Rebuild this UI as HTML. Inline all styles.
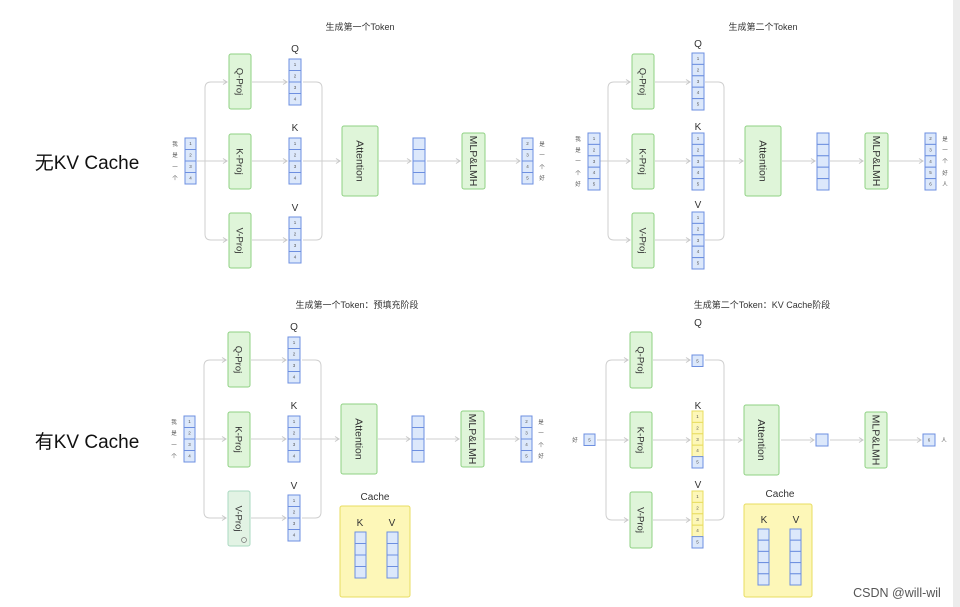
<!DOCTYPE html>
<html><head><meta charset="utf-8"><style>
html,body{margin:0;padding:0;background:#fff}
svg{display:block}
text{font-family:"Liberation Sans","Noto Sans CJK SC",sans-serif}
.c{fill:#dce8fb;stroke:#6d8fe0;stroke-width:1}
.y{fill:#fdf7b8;stroke:#e8dc60;stroke-width:1}
.p{fill:#dff5d9;stroke:#8fd183;stroke-width:1}
.l{fill:none;stroke:#cfcfcf;stroke-width:1}
.n{font-size:4.5px;fill:#555;text-anchor:middle}
.s{font-size:5.5px;fill:#555;text-anchor:middle}
.pt{font-size:9.5px;fill:#333;text-anchor:middle}
.pa{font-size:10.5px;fill:#333;text-anchor:middle}
.h{font-size:10px;fill:#333;text-anchor:middle}
.t{font-size:9px;fill:#333;text-anchor:middle}
</style></head><body>
<svg width="960" height="607" viewBox="0 0 960 607" xmlns="http://www.w3.org/2000/svg">
<defs><marker id="a" markerWidth="6" markerHeight="6" refX="5" refY="3" orient="auto"><path d="M1,0.5 L5,3 L1,5.5" fill="none" stroke="#c8c8c8" stroke-width="1"/></marker></defs>
<rect x="953" y="0" width="7" height="607" fill="#ececec"/>
<text x="87" y="169" style="font-size:19px;fill:#111;text-anchor:middle">无KV Cache</text>
<text x="87" y="448" style="font-size:19px;fill:#111;text-anchor:middle">有KV Cache</text>

<!-- PANEL 1 -->
<g>
<text x="360" y="30" class="t">生成第一个Token</text>
<g class="l"><path d="M197,161 H227" marker-end="url(#a)"/><path d="M205,161 V88 Q205,82 211,82 H227" marker-end="url(#a)"/><path d="M205,161 V234 Q205,240 211,240 H227" marker-end="url(#a)"/>
<path d="M252,82 H287" marker-end="url(#a)"/><path d="M252,161 H287" marker-end="url(#a)"/><path d="M252,240 H287" marker-end="url(#a)"/>
<path d="M303,82 H316 Q322,82 322,88 V161"/><path d="M303,240 H316 Q322,240 322,234 V161"/><path d="M303,161 H340" marker-end="url(#a)"/>
<path d="M379,161 H411" marker-end="url(#a)"/><path d="M427,161 H460" marker-end="url(#a)"/><path d="M486,161 H520" marker-end="url(#a)"/></g>
<rect class="c" x="185" y="138" width="11" height="11.5"/><rect class="c" x="185" y="149.5" width="11" height="11.5"/><rect class="c" x="185" y="161" width="11" height="11.5"/><rect class="c" x="185" y="172.5" width="11" height="11.5"/>
<text class="n" x="190.5" y="145">1</text><text class="n" x="190.5" y="156.5">2</text><text class="n" x="190.5" y="168">3</text><text class="n" x="190.5" y="179.5">4</text>
<text class="s" x="175" y="146">我</text><text class="s" x="175" y="157">是</text><text class="s" x="175" y="169">一</text><text class="s" x="175" y="180">个</text>
<rect class="p" x="229" y="54" width="22" height="55" rx="2"/><text class="pt" transform="translate(240,81.5) rotate(90)" y="3.5">Q-Proj</text>
<rect class="p" x="229" y="134" width="22" height="55" rx="2"/><text class="pt" transform="translate(240,161.5) rotate(90)" y="3.5">K-Proj</text>
<rect class="p" x="229" y="213" width="22" height="55" rx="2"/><text class="pt" transform="translate(240,240.5) rotate(90)" y="3.5">V-Proj</text>
<text class="h" x="295" y="52">Q</text><text class="h" x="295" y="131">K</text><text class="h" x="295" y="211">V</text>
<rect class="c" x="289" y="59" width="12" height="11.5"/><rect class="c" x="289" y="70.5" width="12" height="11.5"/><rect class="c" x="289" y="82" width="12" height="11.5"/><rect class="c" x="289" y="93.5" width="12" height="11.5"/>
<text class="n" x="295" y="66">1</text><text class="n" x="295" y="77.5">2</text><text class="n" x="295" y="89">3</text><text class="n" x="295" y="100.5">4</text>
<g transform="translate(0,79)"><rect class="c" x="289" y="59" width="12" height="11.5"/><rect class="c" x="289" y="70.5" width="12" height="11.5"/><rect class="c" x="289" y="82" width="12" height="11.5"/><rect class="c" x="289" y="93.5" width="12" height="11.5"/>
<text class="n" x="295" y="66">1</text><text class="n" x="295" y="77.5">2</text><text class="n" x="295" y="89">3</text><text class="n" x="295" y="100.5">4</text></g>
<g transform="translate(0,158)"><rect class="c" x="289" y="59" width="12" height="11.5"/><rect class="c" x="289" y="70.5" width="12" height="11.5"/><rect class="c" x="289" y="82" width="12" height="11.5"/><rect class="c" x="289" y="93.5" width="12" height="11.5"/>
<text class="n" x="295" y="66">1</text><text class="n" x="295" y="77.5">2</text><text class="n" x="295" y="89">3</text><text class="n" x="295" y="100.5">4</text></g>
<rect class="p" x="342" y="126" width="36" height="70" rx="2"/><text class="pa" transform="translate(360,161) rotate(90)" y="3.5">Attention</text>
<rect class="c" x="413" y="138" width="12" height="11.5"/><rect class="c" x="413" y="149.5" width="12" height="11.5"/><rect class="c" x="413" y="161" width="12" height="11.5"/><rect class="c" x="413" y="172.5" width="12" height="11.5"/>
<rect class="p" x="462" y="133" width="23" height="56" rx="2"/><text class="pa" transform="translate(473.5,161) rotate(90)" y="3.5">MLP&amp;LMH</text>
<rect class="c" x="522" y="138" width="11" height="11.5"/><rect class="c" x="522" y="149.5" width="11" height="11.5"/><rect class="c" x="522" y="161" width="11" height="11.5"/><rect class="c" x="522" y="172.5" width="11" height="11.5"/>
<text class="n" x="527.5" y="145">2</text><text class="n" x="527.5" y="156.5">3</text><text class="n" x="527.5" y="168">4</text><text class="n" x="527.5" y="179.5">5</text>
<text class="s" x="542" y="146">是</text><text class="s" x="542" y="157">一</text><text class="s" x="542" y="169">个</text><text class="s" x="542" y="180">好</text>
</g>

<!-- PANEL 3 -->
<g transform="translate(-1,278)">
<text x="358" y="30" class="t">生成第一个Token：预填充阶段</text>
<g class="l"><path d="M197,161 H227" marker-end="url(#a)"/><path d="M205,161 V88 Q205,82 211,82 H227" marker-end="url(#a)"/><path d="M205,161 V234 Q205,240 211,240 H227" marker-end="url(#a)"/>
<path d="M252,82 H287" marker-end="url(#a)"/><path d="M252,161 H287" marker-end="url(#a)"/><path d="M252,240 H287" marker-end="url(#a)"/>
<path d="M303,82 H316 Q322,82 322,88 V161"/><path d="M303,240 H316 Q322,240 322,234 V161"/><path d="M303,161 H340" marker-end="url(#a)"/>
<path d="M379,161 H411" marker-end="url(#a)"/><path d="M427,161 H460" marker-end="url(#a)"/><path d="M486,161 H520" marker-end="url(#a)"/></g>
<rect class="c" x="185" y="138" width="11" height="11.5"/><rect class="c" x="185" y="149.5" width="11" height="11.5"/><rect class="c" x="185" y="161" width="11" height="11.5"/><rect class="c" x="185" y="172.5" width="11" height="11.5"/>
<text class="n" x="190.5" y="145">1</text><text class="n" x="190.5" y="156.5">2</text><text class="n" x="190.5" y="168">3</text><text class="n" x="190.5" y="179.5">4</text>
<text class="s" x="175" y="146">我</text><text class="s" x="175" y="157">是</text><text class="s" x="175" y="169">一</text><text class="s" x="175" y="180">个</text>
<rect class="p" x="229" y="54" width="22" height="55" rx="2"/><text class="pt" transform="translate(240,81.5) rotate(90)" y="3.5">Q-Proj</text>
<rect class="p" x="229" y="134" width="22" height="55" rx="2"/><text class="pt" transform="translate(240,161.5) rotate(90)" y="3.5">K-Proj</text>
<rect x="229" y="213" width="22" height="55" rx="2" fill="#e2f3e4" stroke="#a9d8c0"/><text class="pt" transform="translate(240,240.5) rotate(90)" y="3.5">V-Proj</text>
<circle cx="245" cy="262" r="2.5" fill="none" stroke="#777" stroke-width="0.7"/>
<text class="h" x="295" y="52">Q</text><text class="h" x="295" y="131">K</text><text class="h" x="295" y="211">V</text>
<rect class="c" x="289" y="59" width="12" height="11.5"/><rect class="c" x="289" y="70.5" width="12" height="11.5"/><rect class="c" x="289" y="82" width="12" height="11.5"/><rect class="c" x="289" y="93.5" width="12" height="11.5"/>
<text class="n" x="295" y="66">1</text><text class="n" x="295" y="77.5">2</text><text class="n" x="295" y="89">3</text><text class="n" x="295" y="100.5">4</text>
<g transform="translate(0,79)"><rect class="c" x="289" y="59" width="12" height="11.5"/><rect class="c" x="289" y="70.5" width="12" height="11.5"/><rect class="c" x="289" y="82" width="12" height="11.5"/><rect class="c" x="289" y="93.5" width="12" height="11.5"/>
<text class="n" x="295" y="66">1</text><text class="n" x="295" y="77.5">2</text><text class="n" x="295" y="89">3</text><text class="n" x="295" y="100.5">4</text></g>
<g transform="translate(0,158)"><rect class="c" x="289" y="59" width="12" height="11.5"/><rect class="c" x="289" y="70.5" width="12" height="11.5"/><rect class="c" x="289" y="82" width="12" height="11.5"/><rect class="c" x="289" y="93.5" width="12" height="11.5"/>
<text class="n" x="295" y="66">1</text><text class="n" x="295" y="77.5">2</text><text class="n" x="295" y="89">3</text><text class="n" x="295" y="100.5">4</text></g>
<rect class="p" x="342" y="126" width="36" height="70" rx="2"/><text class="pa" transform="translate(360,161) rotate(90)" y="3.5">Attention</text>
<rect class="c" x="413" y="138" width="12" height="11.5"/><rect class="c" x="413" y="149.5" width="12" height="11.5"/><rect class="c" x="413" y="161" width="12" height="11.5"/><rect class="c" x="413" y="172.5" width="12" height="11.5"/>
<rect class="p" x="462" y="133" width="23" height="56" rx="2"/><text class="pa" transform="translate(473.5,161) rotate(90)" y="3.5">MLP&amp;LMH</text>
<rect class="c" x="522" y="138" width="11" height="11.5"/><rect class="c" x="522" y="149.5" width="11" height="11.5"/><rect class="c" x="522" y="161" width="11" height="11.5"/><rect class="c" x="522" y="172.5" width="11" height="11.5"/>
<text class="n" x="527.5" y="145">2</text><text class="n" x="527.5" y="156.5">3</text><text class="n" x="527.5" y="168">4</text><text class="n" x="527.5" y="179.5">5</text>
<text class="s" x="542" y="146">是</text><text class="s" x="542" y="157">一</text><text class="s" x="542" y="169">个</text><text class="s" x="542" y="180">好</text>
<text class="h" x="376" y="222">Cache</text>
<rect class="y" x="341" y="228" width="70" height="91" rx="2"/>
<text class="h" x="361" y="248">K</text><text class="h" x="393" y="248">V</text>
<rect class="c" x="356" y="254" width="11" height="11.5"/><rect class="c" x="356" y="265.5" width="11" height="11.5"/><rect class="c" x="356" y="277" width="11" height="11.5"/><rect class="c" x="356" y="288.5" width="11" height="11.5"/>
<rect class="c" x="388" y="254" width="11" height="11.5"/><rect class="c" x="388" y="265.5" width="11" height="11.5"/><rect class="c" x="388" y="277" width="11" height="11.5"/><rect class="c" x="388" y="288.5" width="11" height="11.5"/>
</g>

<!-- PANEL 2 -->
<text x="763" y="30" class="t">生成第二个Token</text>
<g class="l"><path d="M600,161 H630" marker-end="url(#a)"/><path d="M608,161 V88 Q608,82 614,82 H630" marker-end="url(#a)"/><path d="M608,161 V234 Q608,240 614,240 H630" marker-end="url(#a)"/>
<path d="M655,82 H690" marker-end="url(#a)"/><path d="M655,161 H690" marker-end="url(#a)"/><path d="M655,240 H690" marker-end="url(#a)"/>
<path d="M705,82 H718 Q724,82 724,88 V161"/><path d="M705,240 H718 Q724,240 724,234 V161"/><path d="M705,161 H743" marker-end="url(#a)"/>
<path d="M782,161 H815" marker-end="url(#a)"/><path d="M830,161 H863" marker-end="url(#a)"/><path d="M889,161 H923" marker-end="url(#a)"/></g>
<rect class="c" x="588" y="133" width="12" height="11.4"/><rect class="c" x="588" y="144.4" width="12" height="11.4"/><rect class="c" x="588" y="155.8" width="12" height="11.4"/><rect class="c" x="588" y="167.2" width="12" height="11.4"/><rect class="c" x="588" y="178.6" width="12" height="11.4"/>
<text class="n" x="594" y="140">1</text><text class="n" x="594" y="151.4">2</text><text class="n" x="594" y="162.8">3</text><text class="n" x="594" y="174.2">4</text><text class="n" x="594" y="185.6">5</text>
<text class="s" x="578" y="141">我</text><text class="s" x="578" y="152">是</text><text class="s" x="578" y="163">一</text><text class="s" x="578" y="175">个</text><text class="s" x="578" y="186">好</text>
<rect class="p" x="632" y="54" width="22" height="55" rx="2"/><text class="pt" transform="translate(643,81.5) rotate(90)" y="3.5">Q-Proj</text>
<rect class="p" x="632" y="134" width="22" height="55" rx="2"/><text class="pt" transform="translate(643,161.5) rotate(90)" y="3.5">K-Proj</text>
<rect class="p" x="632" y="213" width="22" height="55" rx="2"/><text class="pt" transform="translate(643,240.5) rotate(90)" y="3.5">V-Proj</text>
<text class="h" x="698" y="47">Q</text><text class="h" x="698" y="130">K</text><text class="h" x="698" y="208">V</text>
<rect class="c" x="692" y="53" width="12" height="11.4"/><rect class="c" x="692" y="64.4" width="12" height="11.4"/><rect class="c" x="692" y="75.8" width="12" height="11.4"/><rect class="c" x="692" y="87.2" width="12" height="11.4"/><rect class="c" x="692" y="98.6" width="12" height="11.4"/>
<text class="n" x="698" y="60">1</text><text class="n" x="698" y="71.4">2</text><text class="n" x="698" y="82.8">3</text><text class="n" x="698" y="94.2">4</text><text class="n" x="698" y="105.6">5</text>
<g transform="translate(0,80)"><rect class="c" x="692" y="53" width="12" height="11.4"/><rect class="c" x="692" y="64.4" width="12" height="11.4"/><rect class="c" x="692" y="75.8" width="12" height="11.4"/><rect class="c" x="692" y="87.2" width="12" height="11.4"/><rect class="c" x="692" y="98.6" width="12" height="11.4"/>
<text class="n" x="698" y="60">1</text><text class="n" x="698" y="71.4">2</text><text class="n" x="698" y="82.8">3</text><text class="n" x="698" y="94.2">4</text><text class="n" x="698" y="105.6">5</text></g>
<g transform="translate(0,159)"><rect class="c" x="692" y="53" width="12" height="11.4"/><rect class="c" x="692" y="64.4" width="12" height="11.4"/><rect class="c" x="692" y="75.8" width="12" height="11.4"/><rect class="c" x="692" y="87.2" width="12" height="11.4"/><rect class="c" x="692" y="98.6" width="12" height="11.4"/>
<text class="n" x="698" y="60">1</text><text class="n" x="698" y="71.4">2</text><text class="n" x="698" y="82.8">3</text><text class="n" x="698" y="94.2">4</text><text class="n" x="698" y="105.6">5</text></g>
<rect class="p" x="745" y="126" width="36" height="70" rx="2"/><text class="pa" transform="translate(763,161) rotate(90)" y="3.5">Attention</text>
<rect class="c" x="817" y="133" width="12" height="11.4"/><rect class="c" x="817" y="144.4" width="12" height="11.4"/><rect class="c" x="817" y="155.8" width="12" height="11.4"/><rect class="c" x="817" y="167.2" width="12" height="11.4"/><rect class="c" x="817" y="178.6" width="12" height="11.4"/>
<rect class="p" x="865" y="133" width="23" height="56" rx="2"/><text class="pa" transform="translate(876.5,161) rotate(90)" y="3.5">MLP&amp;LMH</text>
<rect class="c" x="925" y="133" width="11" height="11.4"/><rect class="c" x="925" y="144.4" width="11" height="11.4"/><rect class="c" x="925" y="155.8" width="11" height="11.4"/><rect class="c" x="925" y="167.2" width="11" height="11.4"/><rect class="c" x="925" y="178.6" width="11" height="11.4"/>
<text class="n" x="930.5" y="140">2</text><text class="n" x="930.5" y="151.4">3</text><text class="n" x="930.5" y="162.8">4</text><text class="n" x="930.5" y="174.2">5</text><text class="n" x="930.5" y="185.6">6</text>
<text class="s" x="945" y="141">是</text><text class="s" x="945" y="152">一</text><text class="s" x="945" y="163">个</text><text class="s" x="945" y="175">好</text><text class="s" x="945" y="186">人</text>

<!-- PANEL 4 -->
<text x="762" y="308" class="t">生成第二个Token：KV Cache阶段</text>
<g class="l"><path d="M597,440 H628" marker-end="url(#a)"/><path d="M606,440 V366 Q606,360 612,360 H628" marker-end="url(#a)"/><path d="M606,440 V514 Q606,520 612,520 H628" marker-end="url(#a)"/>
<path d="M653,360 H690" marker-end="url(#a)"/><path d="M653,440 H690" marker-end="url(#a)"/><path d="M653,520 H690" marker-end="url(#a)"/>
<path d="M705,360 H718 Q724,360 724,366 V440"/><path d="M705,520 H718 Q724,520 724,514 V440"/><path d="M705,440 H742" marker-end="url(#a)"/>
<path d="M781,440 H814" marker-end="url(#a)"/><path d="M830,440 H863" marker-end="url(#a)"/><path d="M889,440 H921" marker-end="url(#a)"/></g>
<text class="s" x="575" y="442">好</text>
<rect class="c" x="584" y="434" width="11" height="11.5"/><text class="n" x="589.5" y="441.5">5</text>
<rect class="p" x="630" y="332" width="22" height="56" rx="2"/><text class="pt" transform="translate(641,360) rotate(90)" y="3.5">Q-Proj</text>
<rect class="p" x="630" y="412" width="22" height="56" rx="2"/><text class="pt" transform="translate(641,440) rotate(90)" y="3.5">K-Proj</text>
<rect class="p" x="630" y="492" width="22" height="56" rx="2"/><text class="pt" transform="translate(641,520) rotate(90)" y="3.5">V-Proj</text>
<text class="h" x="698" y="326">Q</text><text class="h" x="698" y="409">K</text><text class="h" x="698" y="488">V</text>
<rect class="c" x="692" y="355" width="11" height="11.5"/><text class="n" x="697.5" y="362.5">5</text>
<rect class="y" x="692" y="411" width="11" height="11.4"/><rect class="y" x="692" y="422.4" width="11" height="11.4"/><rect class="y" x="692" y="433.8" width="11" height="11.4"/><rect class="y" x="692" y="445.2" width="11" height="11.4"/><rect class="c" x="692" y="456.6" width="11" height="11.4"/>
<text class="n" x="697.5" y="418">1</text><text class="n" x="697.5" y="429.4">2</text><text class="n" x="697.5" y="440.8">3</text><text class="n" x="697.5" y="452.2">4</text><text class="n" x="697.5" y="463.6">5</text>
<rect class="y" x="692" y="491" width="11" height="11.4"/><rect class="y" x="692" y="502.4" width="11" height="11.4"/><rect class="y" x="692" y="513.8" width="11" height="11.4"/><rect class="y" x="692" y="525.2" width="11" height="11.4"/><rect class="c" x="692" y="536.6" width="11" height="11.4"/>
<text class="n" x="697.5" y="498">1</text><text class="n" x="697.5" y="509.4">2</text><text class="n" x="697.5" y="520.8">3</text><text class="n" x="697.5" y="532.2">4</text><text class="n" x="697.5" y="543.6">5</text>
<rect class="p" x="744" y="405" width="35" height="70" rx="2"/><text class="pa" transform="translate(761.5,440) rotate(90)" y="3.5">Attention</text>
<rect class="c" x="816" y="434" width="12" height="12"/>
<rect class="p" x="865" y="412" width="22" height="56" rx="2"/><text class="pa" transform="translate(876,440) rotate(90)" y="3.5">MLP&amp;LMH</text>
<rect class="c" x="923" y="434" width="12" height="12"/><text class="n" x="929" y="441.5">6</text>
<text class="s" x="944" y="442">人</text>
<text class="h" x="780" y="497">Cache</text>
<rect class="y" x="744" y="504" width="68" height="93" rx="2"/>
<text class="h" x="764" y="523">K</text><text class="h" x="796" y="523">V</text>
<rect class="c" x="758" y="529" width="11" height="11.2"/><rect class="c" x="758" y="540.2" width="11" height="11.2"/><rect class="c" x="758" y="551.4" width="11" height="11.2"/><rect class="c" x="758" y="562.6" width="11" height="11.2"/><rect class="c" x="758" y="573.8" width="11" height="11.2"/>
<rect class="c" x="790" y="529" width="11" height="11.2"/><rect class="c" x="790" y="540.2" width="11" height="11.2"/><rect class="c" x="790" y="551.4" width="11" height="11.2"/><rect class="c" x="790" y="562.6" width="11" height="11.2"/><rect class="c" x="790" y="573.8" width="11" height="11.2"/>
<text x="897" y="597" style="font-size:12.5px;fill:#555;text-anchor:middle">CSDN @will-wil</text>
</svg>
</body></html>
